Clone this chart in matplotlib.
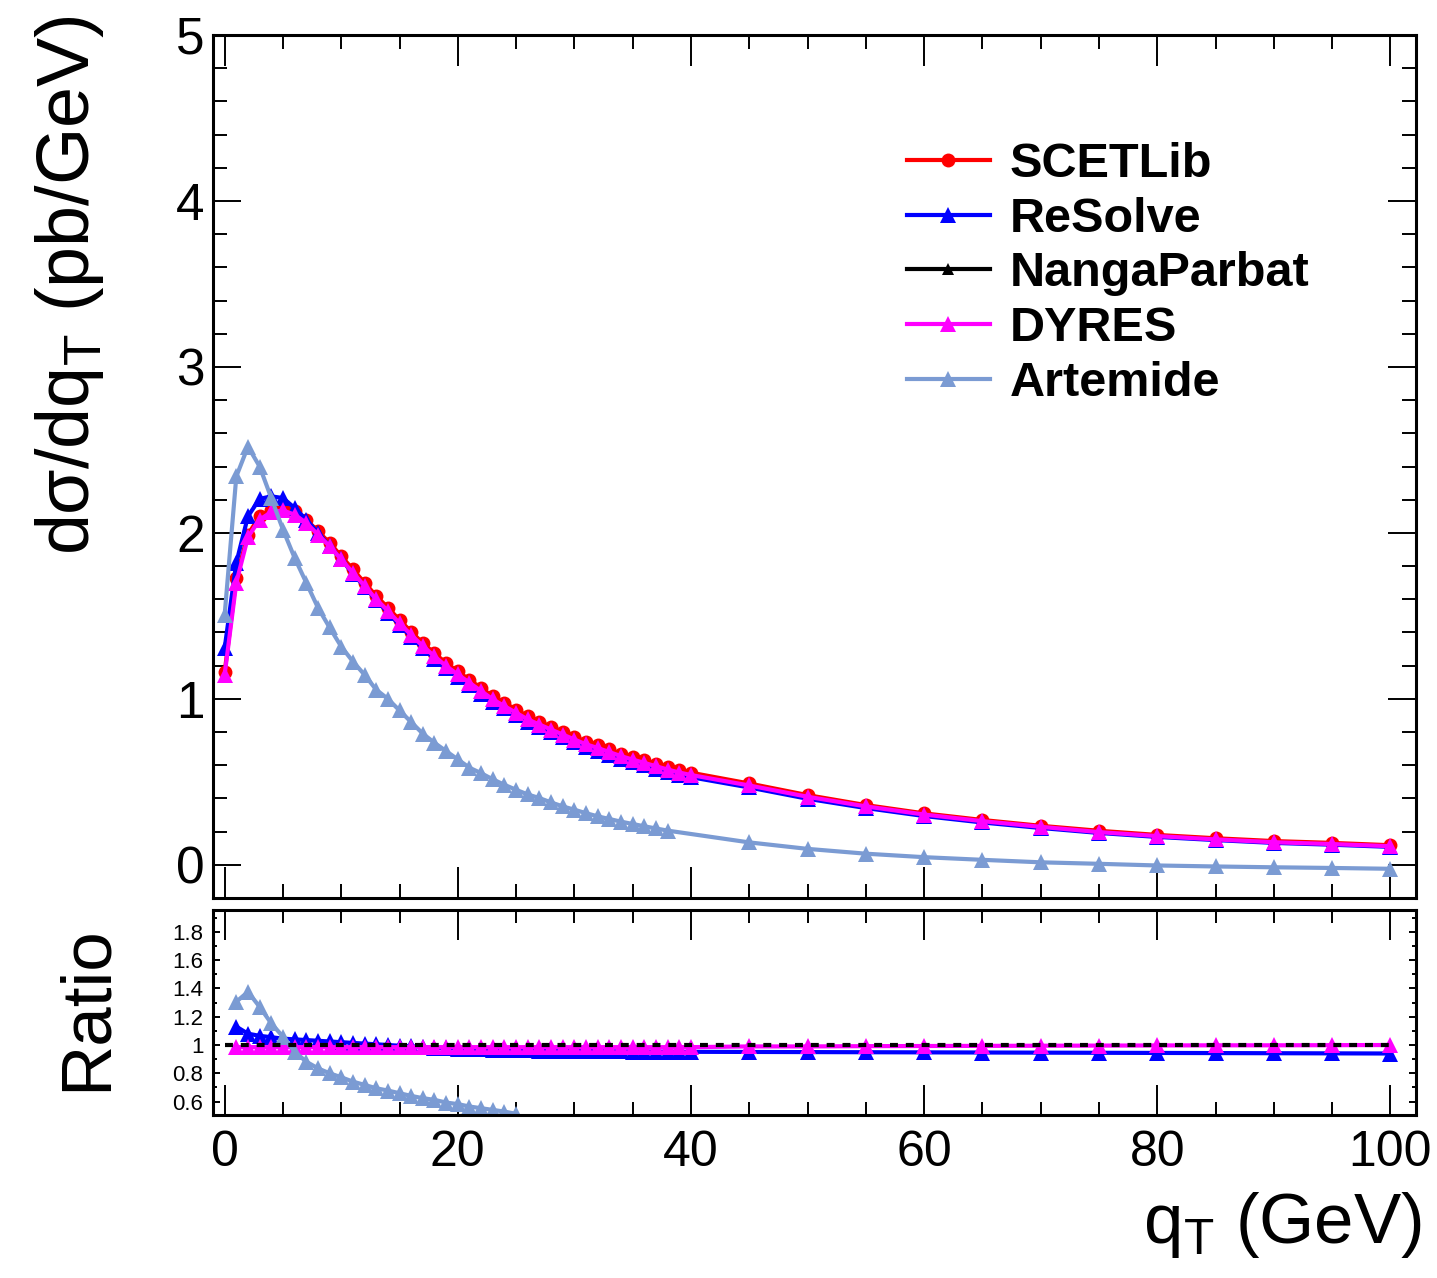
import numpy as np
import matplotlib
matplotlib.use('Agg')
import matplotlib.pyplot as plt
from matplotlib.ticker import MultipleLocator, FuncFormatter

plt.rcParams['font.family'] = ['Liberation Sans', 'DejaVu Sans']
plt.rcParams['mathtext.fontset'] = 'custom'
plt.rcParams['mathtext.rm'] = 'Liberation Sans'

# qT points (GeV)
qT = list(range(0, 41)) + list(range(45, 101, 5))
qT_art = list(range(0, 39)) + list(range(45, 101, 5))

# dsigma/dqT (pb/GeV)
scetlib = [1.16, 1.73, 1.99, 2.10, 2.14, 2.15, 2.13, 2.08, 2.01, 1.94,
           1.86, 1.78, 1.70, 1.62, 1.55, 1.475, 1.405, 1.335, 1.275, 1.215,
           1.165, 1.115, 1.065, 1.015, 0.975, 0.935, 0.895, 0.862, 0.832, 0.802,
           0.772, 0.742, 0.720, 0.695, 0.670, 0.650, 0.630, 0.610, 0.590, 0.570,
           0.555,
           0.49, 0.42, 0.36, 0.31, 0.27, 0.235, 0.205, 0.18, 0.16, 0.143, 0.132, 0.118]
resolve = [1.305, 1.82, 2.10, 2.205, 2.22, 2.21, 2.15, 2.08, 2.00, 1.92,
           1.84, 1.755, 1.675, 1.595, 1.52, 1.445, 1.375, 1.305, 1.243, 1.183,
           1.132, 1.082, 1.032, 0.983, 0.942, 0.902, 0.862, 0.830, 0.800, 0.770,
           0.740, 0.711, 0.688, 0.664, 0.640, 0.619, 0.600, 0.580, 0.561, 0.542,
           0.528,
           0.466, 0.398, 0.342, 0.294, 0.255, 0.222, 0.192, 0.168, 0.149, 0.132, 0.121, 0.108]
dyres = [1.145, 1.70, 1.975, 2.08, 2.125, 2.135, 2.11, 2.06, 1.99, 1.92,
         1.84, 1.76, 1.68, 1.60, 1.53, 1.455, 1.385, 1.318, 1.256, 1.197,
         1.147, 1.097, 1.047, 0.997, 0.956, 0.916, 0.876, 0.845, 0.815, 0.785,
         0.755, 0.726, 0.704, 0.679, 0.655, 0.634, 0.614, 0.594, 0.574, 0.556,
         0.541,
         0.478, 0.410, 0.352, 0.303, 0.263, 0.229, 0.197, 0.173, 0.153, 0.136, 0.125, 0.112]
artemide = [1.506, 2.34, 2.52, 2.40, 2.21, 2.02, 1.85, 1.70, 1.55, 1.43,
            1.315, 1.225, 1.145, 1.055, 1.00, 0.93, 0.86, 0.79, 0.735, 0.685,
            0.635, 0.585, 0.552, 0.515, 0.482, 0.452, 0.424, 0.402, 0.376, 0.352,
            0.332, 0.311, 0.292, 0.276, 0.260, 0.246, 0.232, 0.219, 0.206,
            0.135, 0.096, 0.067, 0.046, 0.030, 0.015, 0.006, -0.004, -0.010, -0.015, -0.019, -0.024]

# ratio panel
qT_ratio = list(range(1, 41)) + list(range(45, 101, 5))
qT_ratio_art = list(range(1, 26))
ratio_resolve = [1.13, 1.08, 1.065, 1.055, 1.045, 1.04, 1.035, 1.03, 1.025, 1.02,
                 1.015, 1.01, 1.005, 1.0, 0.995, 0.99, 0.986, 0.982, 0.978, 0.975,
                 0.972, 0.97, 0.968, 0.966, 0.964, 0.962, 0.961, 0.96, 0.959, 0.958,
                 0.957, 0.956, 0.955, 0.955, 0.954, 0.954, 0.953, 0.953, 0.952, 0.952,
                 0.951, 0.950, 0.949, 0.948, 0.947, 0.946, 0.945, 0.944, 0.943, 0.942, 0.941, 0.940]
ratio_dyres = [0.985] * 40 + [0.99, 0.99, 0.992, 0.993, 0.994, 0.995, 0.996, 0.997, 0.998, 0.998, 0.999, 1.0]
ratio_artemide = [1.306, 1.376, 1.270, 1.153, 1.059, 0.953, 0.882, 0.835, 0.80, 0.772,
                  0.741, 0.718, 0.694, 0.678, 0.659, 0.640, 0.624, 0.612, 0.593, 0.582,
                  0.565, 0.553, 0.541, 0.529, 0.513]

c_art = '#7b9bd3'
lw = 3.0

W, H = 1437, 1278
fig = plt.figure(figsize=(W / 100, H / 100), dpi=100)
ax1 = fig.add_axes([213 / W, 1 - 898 / H, (1416 - 213) / W, (898 - 35) / H])
ax2 = fig.add_axes([213 / W, 1 - 1115 / H, (1416 - 213) / W, (1115 - 910) / H])

ax1.plot(qT, scetlib, '-o', color='red', lw=lw, ms=10, mew=0, label='SCETLib')
ax1.plot(qT, resolve, '-^', color='blue', lw=lw, ms=11, mew=0, label='ReSolve')
ax1.plot([], [], '-^', color='black', lw=lw, ms=8, mew=0, label='NangaParbat')
ax1.plot(qT, dyres, '-^', color='magenta', lw=lw, ms=11, mew=0, label='DYRES')
ax1.plot(qT_art, artemide, '-^', color=c_art, lw=lw, ms=11, mew=0, label='Artemide')

ax2.plot(qT_ratio, ratio_resolve, '-^', color='blue', lw=lw, ms=11, mew=0)
ax2.plot(qT_ratio, ratio_dyres, '-^', color='magenta', lw=lw, ms=11, mew=0)
ax2.plot(qT_ratio_art, ratio_artemide, '-^', color=c_art, lw=lw, ms=11, mew=0)
ax2.hlines(1.0, qT[0], qT[-1], colors='black', lw=3, linestyles=(0, (1.9, 1.9)))

for ax in (ax1, ax2):
    ax.set_xlim(-1, 102.2)
    ax.xaxis.set_major_locator(MultipleLocator(20))
    ax.xaxis.set_minor_locator(MultipleLocator(5))
    for s in ax.spines.values():
        s.set_linewidth(2.2)
    ax.tick_params(which='both', direction='in', top=True, right=True, width=1.4)

ax1.set_ylim(-0.2, 5.0)
ax1.yaxis.set_major_locator(MultipleLocator(1))
ax1.yaxis.set_minor_locator(MultipleLocator(0.2))
ax1.tick_params(axis='x', which='major', length=22, labelbottom=False)
ax1.tick_params(axis='x', which='minor', length=10)
ax1.tick_params(axis='y', which='major', length=20, labelsize=37, pad=6)
ax1.tick_params(axis='y', which='minor', length=10)

ax2.set_ylim(0.505, 1.955)
ax2.yaxis.set_major_locator(MultipleLocator(0.2))
ax2.yaxis.set_minor_locator(MultipleLocator(0.1))
ax2.yaxis.set_major_formatter(FuncFormatter(lambda v, p: f'{v:.1f}'.rstrip('0').rstrip('.')))
ax2.tick_params(axis='x', which='major', length=21.5, labelsize=36, pad=11)
ax2.tick_params(axis='x', which='minor', length=9.5)
ax2.tick_params(axis='y', which='major', length=5, labelsize=16, pad=7)
ax2.tick_params(axis='y', which='minor', length=3)

fig.text(70 / W, 1 - 15 / H, 'dσ/dq$_\\mathregular{T}$ (pb/GeV)', rotation=90,
         ha='center', va='top', fontsize=53)
fig.text(88 / W, 1 - 1008 / H, 'Ratio', rotation=90, ha='center', va='center', fontsize=51)
fig.text(1422 / W, 1 - 1243 / H, 'q$_\\mathregular{T}$ (GeV)', ha='right', va='baseline',
         fontsize=51)

ax1.legend(loc='upper left', bbox_to_anchor=(907 / W, 1 - 142 / H),
           bbox_transform=fig.transFigure, frameon=False, borderpad=0, borderaxespad=0,
           handlelength=1.7, handletextpad=0.42, labelspacing=0.2,
           prop={'family': 'Liberation Sans', 'weight': 'bold', 'size': 35})

fig.savefig('out.png', dpi=100)
